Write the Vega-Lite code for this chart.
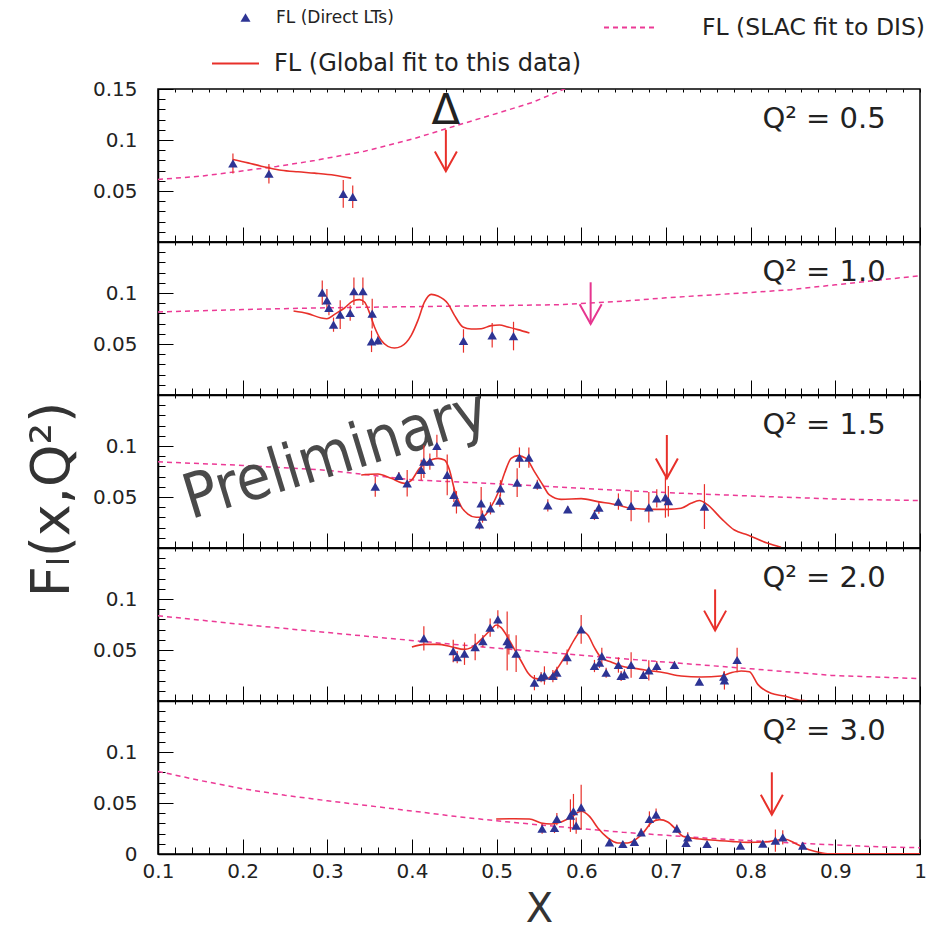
{
"$schema": "https://vega.github.io/schema/vega-lite/v6.json",
"padding": {"left": 24, "top": 0, "right": 0, "bottom": 0},
"spacing": 0,
"bounds": "flush",
"config": {
 "view": {"stroke": "#000", "strokeWidth": 1.5},
 "axis": {"domainColor": "#000", "domainWidth": 1.5, "tickColor": "#000", "tickWidth": 1, "labelFont": "DejaVu Sans", "labelFontSize": 20, "labelColor": "#222", "grid": false, "labelFlush": false, "labelOverlap": false, "titleFont": "DejaVu Sans", "titleFontWeight": "normal", "titleColor": "#333"},
 "legend": {"labelFont": "DejaVu Sans", "labelColor": "#222", "padding": 0, "labelLimit": 500}
},
"resolve": {"scale": {"shape": "independent", "stroke": "independent", "strokeDash": "independent"}, "legend": {"shape": "independent", "stroke": "independent", "strokeDash": "independent"}},
"datasets": {
 "pts": [
  {"p":1,"x":0.1885,"y":0.077,"e":0.0098},{"p":1,"x":0.231,"y":0.0669,"e":0.0095},{"p":1,"x":0.3188,"y":0.0472,"e":0.0135},{"p":1,"x":0.330,"y":0.0443,"e":0.011},
  {"p":2,"x":0.294,"y":0.1004,"e":0.0118},{"p":2,"x":0.2995,"y":0.0928,"e":0.011},{"p":2,"x":0.3019,"y":0.0853,"e":0.007},{"p":2,"x":0.3073,"y":0.069,"e":0.007},{"p":2,"x":0.3152,"y":0.0788,"e":0.014},{"p":2,"x":0.327,"y":0.0804,"e":0.0075},{"p":2,"x":0.3314,"y":0.1017,"e":0.0135},{"p":2,"x":0.342,"y":0.1017,"e":0.0135},{"p":2,"x":0.353,"y":0.0798,"e":0.0145},{"p":2,"x":0.3522,"y":0.0526,"e":0.0105},{"p":2,"x":0.3597,"y":0.0536,"e":0.004},{"p":2,"x":0.4608,"y":0.053,"e":0.0115},{"p":2,"x":0.4947,"y":0.0585,"e":0.012},{"p":2,"x":0.5199,"y":0.0578,"e":0.014},
  {"p":3,"x":0.3566,"y":0.0602,"e":0.01},{"p":3,"x":0.3845,"y":0.0706,"e":0.004},{"p":3,"x":0.3943,"y":0.0634,"e":0.013},{"p":3,"x":0.4109,"y":0.0765,"e":0.01},{"p":3,"x":0.414,"y":0.0847,"e":0.016},{"p":3,"x":0.4211,"y":0.0847,"e":0.008},{"p":3,"x":0.4294,"y":0.1,"e":0.011},{"p":3,"x":0.4416,"y":0.0716,"e":0.02},{"p":3,"x":0.4495,"y":0.052,"e":0.007},{"p":3,"x":0.4525,"y":0.0448,"e":0.011},{"p":3,"x":0.4797,"y":0.0232,"e":0.005},{"p":3,"x":0.4817,"y":0.0438,"e":0.016},{"p":3,"x":0.4833,"y":0.0308,"e":0.006},{"p":3,"x":0.4927,"y":0.0389,"e":0.006},{"p":3,"x":0.5038,"y":0.0465,"e":0.006},{"p":3,"x":0.5045,"y":0.0585,"e":0.008},{"p":3,"x":0.5242,"y":0.0641,"e":0.014},{"p":3,"x":0.5269,"y":0.0886,"e":0.01},{"p":3,"x":0.538,"y":0.0886,"e":0.01},{"p":3,"x":0.548,"y":0.062,"e":0.005},{"p":3,"x":0.5604,"y":0.0417,"e":0.006},{"p":3,"x":0.584,"y":0.0379,"e":0.003},{"p":3,"x":0.6155,"y":0.0324,"e":0.005},{"p":3,"x":0.6207,"y":0.0396,"e":0.006},{"p":3,"x":0.6438,"y":0.0455,"e":0.008},{"p":3,"x":0.6588,"y":0.0412,"e":0.015},{"p":3,"x":0.6797,"y":0.0399,"e":0.015},{"p":3,"x":0.6891,"y":0.0487,"e":0.009},{"p":3,"x":0.6993,"y":0.0497,"e":0.02},{"p":3,"x":0.7028,"y":0.0459,"e":0.015},{"p":3,"x":0.7454,"y":0.0406,"e":0.022},
  {"p":4,"x":0.414,"y":0.0614,"e":0.012},{"p":4,"x":0.4487,"y":0.049,"e":0.011},{"p":4,"x":0.4534,"y":0.0431,"e":0.006},{"p":4,"x":0.462,"y":0.0464,"e":0.011},{"p":4,"x":0.4746,"y":0.0529,"e":0.013},{"p":4,"x":0.4837,"y":0.0588,"e":0.006},{"p":4,"x":0.4923,"y":0.0719,"e":0.009},{"p":4,"x":0.5014,"y":0.08,"e":0.009},{"p":4,"x":0.5124,"y":0.0588,"e":0.029},{"p":4,"x":0.5144,"y":0.0555,"e":0.01},{"p":4,"x":0.523,"y":0.0464,"e":0.018},{"p":4,"x":0.5446,"y":0.018,"e":0.0075},{"p":4,"x":0.5525,"y":0.0235,"e":0.005},{"p":4,"x":0.5564,"y":0.025,"e":0.009},{"p":4,"x":0.5664,"y":0.0245,"e":0.006},{"p":4,"x":0.5711,"y":0.0277,"e":0.006},{"p":4,"x":0.5832,"y":0.0431,"e":0.0075},{"p":4,"x":0.5998,"y":0.0702,"e":0.014},{"p":4,"x":0.6155,"y":0.0343,"e":0.006},{"p":4,"x":0.6214,"y":0.0375,"e":0.005},{"p":4,"x":0.6242,"y":0.0441,"e":0.008},{"p":4,"x":0.6293,"y":0.0277,"e":0.005},{"p":4,"x":0.6438,"y":0.0353,"e":0.0075},{"p":4,"x":0.647,"y":0.0245,"e":0.005},{"p":4,"x":0.6509,"y":0.0261,"e":0.005},{"p":4,"x":0.6588,"y":0.0353,"e":0.0125},{"p":4,"x":0.6733,"y":0.0255,"e":0.004},{"p":4,"x":0.6797,"y":0.03,"e":0.01},{"p":4,"x":0.6891,"y":0.0343,"e":0.005},{"p":4,"x":0.71,"y":0.0353,"e":0.004},{"p":4,"x":0.7394,"y":0.0189,"e":0.003},{"p":4,"x":0.7683,"y":0.0238,"e":0.005},{"p":4,"x":0.769,"y":0.0202,"e":0.009},{"p":4,"x":0.784,"y":0.0402,"e":0.012},
  {"p":5,"x":0.5537,"y":0.0249,"e":0.005},{"p":5,"x":0.5683,"y":0.0255,"e":0.005},{"p":5,"x":0.5711,"y":0.0343,"e":0.006},{"p":5,"x":0.5871,"y":0.0376,"e":0.016},{"p":5,"x":0.5907,"y":0.0419,"e":0.017},{"p":5,"x":0.5939,"y":0.0278,"e":0.008},{"p":5,"x":0.5998,"y":0.0458,"e":0.022},{"p":5,"x":0.6332,"y":0.0115,"e":0.003},{"p":5,"x":0.649,"y":0.0098,"e":0.003},{"p":5,"x":0.6627,"y":0.0118,"e":0.003},{"p":5,"x":0.6706,"y":0.0213,"e":0.004},{"p":5,"x":0.6804,"y":0.0343,"e":0.0075},{"p":5,"x":0.6883,"y":0.0386,"e":0.006},{"p":5,"x":0.7128,"y":0.0249,"e":0.004},{"p":5,"x":0.7257,"y":0.0164,"e":0.005},{"p":5,"x":0.7237,"y":0.0108,"e":0.004},{"p":5,"x":0.7485,"y":0.0098,"e":0.003},{"p":5,"x":0.7879,"y":0.0082,"e":0.003},{"p":5,"x":0.8143,"y":0.0101,"e":0.003},{"p":5,"x":0.8292,"y":0.0131,"e":0.011},{"p":5,"x":0.8379,"y":0.0164,"e":0.007},{"p":5,"x":0.8615,"y":0.0082,"e":0.003}
 ],
 "fit": [
  {"p":1,"x":0.1885,"y":0.0809},{"p":1,"x":0.2063,"y":0.0776},{"p":1,"x":0.222,"y":0.0743},{"p":1,"x":0.231,"y":0.0727},{"p":1,"x":0.2456,"y":0.0704},{"p":1,"x":0.2653,"y":0.0688},{"p":1,"x":0.2849,"y":0.0675},{"p":1,"x":0.3085,"y":0.0655},{"p":1,"x":0.3282,"y":0.0626},
  {"p":2,"x":0.2601,"y":0.0824},{"p":2,"x":0.2771,"y":0.0798},{"p":2,"x":0.2928,"y":0.0755},{"p":2,"x":0.2995,"y":0.0748},{"p":2,"x":0.3085,"y":0.0791},{"p":2,"x":0.3203,"y":0.0853},{"p":2,"x":0.3302,"y":0.0922},{"p":2,"x":0.338,"y":0.0935},{"p":2,"x":0.3439,"y":0.0912},{"p":2,"x":0.3487,"y":0.083},{"p":2,"x":0.3557,"y":0.0667},{"p":2,"x":0.3636,"y":0.0536},{"p":2,"x":0.3715,"y":0.0477},{"p":2,"x":0.3793,"y":0.0461},{"p":2,"x":0.3872,"y":0.0477},{"p":2,"x":0.3991,"y":0.0585},{"p":2,"x":0.407,"y":0.0732},{"p":2,"x":0.4148,"y":0.0912},{"p":2,"x":0.4227,"y":0.0987},{"p":2,"x":0.4306,"y":0.0971},{"p":2,"x":0.4424,"y":0.0896},{"p":2,"x":0.4502,"y":0.0781},{"p":2,"x":0.4601,"y":0.0667},{"p":2,"x":0.4699,"y":0.0647},{"p":2,"x":0.4817,"y":0.065},{"p":2,"x":0.4935,"y":0.068},{"p":2,"x":0.5033,"y":0.0686},{"p":2,"x":0.5132,"y":0.0667},{"p":2,"x":0.525,"y":0.0641},{"p":2,"x":0.5387,"y":0.0608},
  {"p":3,"x":0.34,"y":0.0716},{"p":3,"x":0.3597,"y":0.0725},{"p":3,"x":0.3754,"y":0.0683},{"p":3,"x":0.3912,"y":0.0634},{"p":3,"x":0.399,"y":0.0661},{"p":3,"x":0.4089,"y":0.0781},{"p":3,"x":0.4188,"y":0.0847},{"p":3,"x":0.4247,"y":0.087},{"p":3,"x":0.4306,"y":0.0879},{"p":3,"x":0.4384,"y":0.0863},{"p":3,"x":0.4443,"y":0.0765},{"p":3,"x":0.4502,"y":0.0569},{"p":3,"x":0.4581,"y":0.0406},{"p":3,"x":0.466,"y":0.0333},{"p":3,"x":0.4758,"y":0.0301},{"p":3,"x":0.4837,"y":0.0307},{"p":3,"x":0.4935,"y":0.0406},{"p":3,"x":0.5014,"y":0.0536},{"p":3,"x":0.5092,"y":0.0732},{"p":3,"x":0.5171,"y":0.0879},{"p":3,"x":0.525,"y":0.0906},{"p":3,"x":0.5348,"y":0.0879},{"p":3,"x":0.5446,"y":0.0749},{"p":3,"x":0.5545,"y":0.0618},{"p":3,"x":0.5623,"y":0.052},{"p":3,"x":0.5762,"y":0.0477},{"p":3,"x":0.5998,"y":0.0484},{"p":3,"x":0.6195,"y":0.0455},{"p":3,"x":0.6431,"y":0.0422},{"p":3,"x":0.6588,"y":0.0389},{"p":3,"x":0.6824,"y":0.0379},{"p":3,"x":0.7021,"y":0.0379},{"p":3,"x":0.7178,"y":0.0389},{"p":3,"x":0.7296,"y":0.0438},{"p":3,"x":0.7394,"y":0.0465},{"p":3,"x":0.7494,"y":0.0422},{"p":3,"x":0.7651,"y":0.0291},{"p":3,"x":0.7808,"y":0.0176},{"p":3,"x":0.7966,"y":0.0127},{"p":3,"x":0.8202,"y":0.0046},{"p":3,"x":0.8359,"y":0.0007},
  {"p":4,"x":0.3999,"y":0.0529},{"p":4,"x":0.4148,"y":0.0555},{"p":4,"x":0.4306,"y":0.0555},{"p":4,"x":0.4463,"y":0.0532},{"p":4,"x":0.462,"y":0.0506},{"p":4,"x":0.47,"y":0.0523},{"p":4,"x":0.4778,"y":0.0572},{"p":4,"x":0.4856,"y":0.0637},{"p":4,"x":0.4935,"y":0.0702},{"p":4,"x":0.4994,"y":0.0745},{"p":4,"x":0.5053,"y":0.0719},{"p":4,"x":0.5132,"y":0.0621},{"p":4,"x":0.521,"y":0.0506},{"p":4,"x":0.5289,"y":0.0392},{"p":4,"x":0.5368,"y":0.0277},{"p":4,"x":0.5446,"y":0.0222},{"p":4,"x":0.5564,"y":0.0212},{"p":4,"x":0.5643,"y":0.0245},{"p":4,"x":0.5723,"y":0.0327},{"p":4,"x":0.5821,"y":0.0457},{"p":4,"x":0.5919,"y":0.0604},{"p":4,"x":0.5998,"y":0.0686},{"p":4,"x":0.6077,"y":0.0647},{"p":4,"x":0.6155,"y":0.0523},{"p":4,"x":0.6234,"y":0.0425},{"p":4,"x":0.6352,"y":0.0382},{"p":4,"x":0.647,"y":0.0343},{"p":4,"x":0.6627,"y":0.032},{"p":4,"x":0.6785,"y":0.03},{"p":4,"x":0.6981,"y":0.0277},{"p":4,"x":0.7178,"y":0.0245},{"p":4,"x":0.7414,"y":0.0235},{"p":4,"x":0.7651,"y":0.0245},{"p":4,"x":0.7769,"y":0.0277},{"p":4,"x":0.7887,"y":0.0294},{"p":4,"x":0.7985,"y":0.0287},{"p":4,"x":0.8084,"y":0.0163},{"p":4,"x":0.8241,"y":0.0075},{"p":4,"x":0.8398,"y":0.0049},{"p":4,"x":0.8595,"y":0.0006},{"p":4,"x":0.867,"y":0},
  {"p":5,"x":0.4994,"y":0.0343},{"p":5,"x":0.521,"y":0.0346},{"p":5,"x":0.5387,"y":0.0343},{"p":5,"x":0.5525,"y":0.0304},{"p":5,"x":0.5643,"y":0.0294},{"p":5,"x":0.5762,"y":0.0314},{"p":5,"x":0.5879,"y":0.036},{"p":5,"x":0.5998,"y":0.0419},{"p":5,"x":0.6096,"y":0.0369},{"p":5,"x":0.6195,"y":0.0255},{"p":5,"x":0.6313,"y":0.0157},{"p":5,"x":0.6431,"y":0.0108},{"p":5,"x":0.6549,"y":0.0108},{"p":5,"x":0.6667,"y":0.0157},{"p":5,"x":0.6745,"y":0.0222},{"p":5,"x":0.6824,"y":0.0304},{"p":5,"x":0.6923,"y":0.0337},{"p":5,"x":0.7021,"y":0.0314},{"p":5,"x":0.712,"y":0.0239},{"p":5,"x":0.7198,"y":0.0173},{"p":5,"x":0.7296,"y":0.0157},{"p":5,"x":0.7493,"y":0.014},{"p":5,"x":0.7769,"y":0.0124},{"p":5,"x":0.7966,"y":0.0114},{"p":5,"x":0.8162,"y":0.0118},{"p":5,"x":0.8281,"y":0.0131},{"p":5,"x":0.8399,"y":0.0147},{"p":5,"x":0.8517,"y":0.0108},{"p":5,"x":0.8635,"y":0.0059},{"p":5,"x":0.8753,"y":0.0026},{"p":5,"x":0.891,"y":0.0003},{"p":5,"x":0.954,"y":0.0003},{"p":5,"x":1.0,"y":0.0003}
 ],
 "slac": [
  {"p":1,"x":0.1,"y":0.0613},{"p":1,"x":0.15,"y":0.0645},{"p":1,"x":0.1885,"y":0.0685},{"p":1,"x":0.24,"y":0.074},{"p":1,"x":0.285,"y":0.0799},{"p":1,"x":0.344,"y":0.089},{"p":1,"x":0.403,"y":0.1015},{"p":1,"x":0.45,"y":0.1135},{"p":1,"x":0.5,"y":0.126},{"p":1,"x":0.541,"y":0.1365},{"p":1,"x":0.58,"y":0.15},{"p":1,"x":0.62,"y":0.165},
  {"p":2,"x":0.1,"y":0.0814},{"p":2,"x":0.2,"y":0.0838},{"p":2,"x":0.285,"y":0.0853},{"p":2,"x":0.4,"y":0.0866},{"p":2,"x":0.5,"y":0.0876},{"p":2,"x":0.576,"y":0.0886},{"p":2,"x":0.65,"y":0.092},{"p":2,"x":0.7,"y":0.0953},{"p":2,"x":0.8,"y":0.1005},{"p":2,"x":0.8477,"y":0.1033},{"p":2,"x":0.9,"y":0.108},{"p":2,"x":1.0,"y":0.117},
  {"p":3,"x":0.1,"y":0.0845},{"p":3,"x":0.2,"y":0.081},{"p":3,"x":0.3,"y":0.0762},{"p":3,"x":0.4,"y":0.0668},{"p":3,"x":0.5,"y":0.063},{"p":3,"x":0.6,"y":0.0585},{"p":3,"x":0.7,"y":0.0543},{"p":3,"x":0.8,"y":0.051},{"p":3,"x":0.9,"y":0.048},{"p":3,"x":1.0,"y":0.0465},
  {"p":4,"x":0.1,"y":0.0836},{"p":4,"x":0.2,"y":0.075},{"p":4,"x":0.3,"y":0.0672},{"p":4,"x":0.3636,"y":0.0621},{"p":4,"x":0.45,"y":0.0555},{"p":4,"x":0.5,"y":0.0518},{"p":4,"x":0.6,"y":0.0448},{"p":4,"x":0.7,"y":0.0381},{"p":4,"x":0.8,"y":0.0316},{"p":4,"x":0.895,"y":0.0251},{"p":4,"x":1.0,"y":0.0219},
  {"p":5,"x":0.1,"y":0.081},{"p":5,"x":0.15,"y":0.072},{"p":5,"x":0.2,"y":0.064},{"p":5,"x":0.25,"y":0.0575},{"p":5,"x":0.3,"y":0.0522},{"p":5,"x":0.364,"y":0.0458},{"p":5,"x":0.45,"y":0.037},{"p":5,"x":0.5,"y":0.0325},{"p":5,"x":0.568,"y":0.0272},{"p":5,"x":0.65,"y":0.0212},{"p":5,"x":0.757,"y":0.0151},{"p":5,"x":0.85,"y":0.0108},{"p":5,"x":0.954,"y":0.0069},{"p":5,"x":1.0,"y":0.0062}
 ],
 "arrows": [
  {"p":1,"x":0.44,"top":0.110,"tip":0.0694},{"p":2,"x":0.611,"top":0.1105,"tip":0.0696},{"p":3,"x":0.701,"top":0.1108,"tip":0.0683},{"p":4,"x":0.758,"top":0.1094,"tip":0.0692},{"p":5,"x":0.825,"top":0.0801,"tip":0.0386}
 ],
 "labels": [
  {"p":1,"x":0.8867,"y":0.112,"t":"Q² = 0.5"},{"p":2,"x":0.8867,"y":0.112,"t":"Q² = 1.0"},{"p":3,"x":0.8867,"y":0.112,"t":"Q² = 1.5"},{"p":4,"x":0.8867,"y":0.112,"t":"Q² = 2.0"},{"p":5,"x":0.8867,"y":0.112,"t":"Q² = 3.0"}
 ],
 "notes": [
  {"p":1,"x":0.44,"y":0.1152,"t":"Δ"},{"p":3,"x":0.31,"y":0.091,"t":"Preliminary"}
 ]
},
"vconcat": [
 {
  "width": 762, "height": 153,
  "resolve": {"axis": {"x": "independent", "y": "independent"}},
  "layer": [
   {"data": {"name": "slac"}, "transform": [{"filter": "datum.p == 1"}],
    "mark": {"type": "line", "color": "#ec3a96", "strokeDash": [5, 4], "strokeWidth": 1.5, "clip": true},
    "encoding": {
     "x": {"field": "x", "type": "quantitative", "scale": {"domain": [0.1, 1], "nice": false, "zero": false},
      "axis": {"orient": "bottom", "title": null, "labels": false, "values": [0.1,0.12,0.14,0.16,0.18,0.2,0.22,0.24,0.26,0.28,0.3,0.32,0.34,0.36,0.38,0.4,0.42,0.44,0.46,0.48,0.5,0.52,0.54,0.56,0.58,0.6,0.62,0.64,0.66,0.68,0.7,0.72,0.74,0.76,0.78,0.8,0.82,0.84,0.86,0.88,0.9,0.92,0.94,0.96,0.98,1], "tickSize": {"condition": {"test": "abs(datum.value*10-round(datum.value*10))<0.001", "value": -15}, "value": -7}}},
     "y": {"field": "y", "type": "quantitative", "scale": {"domain": [0, 0.15], "nice": false, "zero": false},
      "axis": {"orient": "left", "title": null, "values": [0,0.01,0.02,0.03,0.04,0.05,0.06,0.07,0.08,0.09,0.1,0.11,0.12,0.13,0.14,0.15], "tickSize": {"condition": {"test": "abs(datum.value*20-round(datum.value*20))<0.001", "value": -15}, "value": -7}, "labelPadding": 36, "labelExpr": "datum.value > 0.001 && abs(datum.value*20-round(datum.value*20))<0.001 ? format(datum.value, '.2~f') : ''"}},
     "strokeDash": {"datum": "FL (SLAC fit to DIS)", "scale": {"range": [[5, 4]]}, "legend": {"orient": "none", "legendX": 445, "legendY": -88, "title": null, "labelFontSize": 23.5, "labelOffset": 46, "symbolType": "stroke", "symbolSize": 2601, "symbolStrokeColor": "#ec3a96", "symbolStrokeWidth": 2}}}},
   {"data": {"name": "fit"}, "transform": [{"filter": "datum.p == 1"}],
    "mark": {"type": "line", "strokeWidth": 1.6, "interpolate": "monotone", "clip": true},
    "encoding": {
     "x": {"field": "x", "type": "quantitative", "axis": {"orient": "top", "title": null, "labels": false, "domain": false, "values": [0.1,0.12,0.14,0.16,0.18,0.2,0.22,0.24,0.26,0.28,0.3,0.32,0.34,0.36,0.38,0.4,0.42,0.44,0.46,0.48,0.5,0.52,0.54,0.56,0.58,0.6,0.62,0.64,0.66,0.68,0.7,0.72,0.74,0.76,0.78,0.8,0.82,0.84,0.86,0.88,0.9,0.92,0.94,0.96,0.98,1], "tickSize": -3}},
     "y": {"field": "y", "type": "quantitative", "axis": null},
     "stroke": {"datum": "FL (Global fit to this data)", "scale": {"range": ["#e8302a"]}, "legend": {"orient": "none", "legendX": 53, "legendY": -50, "title": null, "labelFontSize": 24, "labelOffset": 14, "symbolType": "stroke", "symbolSize": 2209, "symbolStrokeWidth": 2}}}},
   {"data": {"name": "pts"}, "transform": [{"filter": "datum.p == 1"}],
    "mark": {"type": "errorbar", "color": "#e8302a", "thickness": 1.2},
    "encoding": {"x": {"field": "x", "type": "quantitative", "axis": null}, "y": {"field": "y", "type": "quantitative", "axis": null}, "yError": {"field": "e"}}},
   {"data": {"name": "pts"}, "transform": [{"filter": "datum.p == 1"}],
    "mark": {"type": "point", "filled": true, "size": 90, "color": "#2d3494", "opacity": 1},
    "encoding": {"x": {"field": "x", "type": "quantitative", "axis": null}, "y": {"field": "y", "type": "quantitative", "axis": null},
     "shape": {"datum": "FL (Direct LTs)", "scale": {"range": ["triangle-up"]}, "legend": {"orient": "none", "legendX": 79, "legendY": -80, "title": null, "labelFontSize": 17, "labelOffset": 22, "symbolSize": 100, "symbolFillColor": "#2d3494", "symbolStrokeWidth": 0}}}},
   {"data": {"name": "arrows"}, "transform": [{"filter": "datum.p == 1"}],
    "mark": {"type": "rule", "color": "#e8302a", "strokeWidth": 2},
    "encoding": {"x": {"field": "x", "type": "quantitative", "axis": null}, "y": {"field": "top", "type": "quantitative", "axis": null}, "y2": {"field": "tip"}}},
   {"data": {"name": "arrows"}, "transform": [{"filter": "datum.p == 1"}],
    "mark": {"type": "point", "shape": "M-1,-1.8L0,0L1,-1.8", "filled": false, "size": 484, "color": "#e8302a", "strokeWidth": 2, "opacity": 1},
    "encoding": {"x": {"field": "x", "type": "quantitative", "axis": null}, "y": {"field": "tip", "type": "quantitative", "axis": null}}},
   {"data": {"name": "labels"}, "transform": [{"filter": "datum.p == 1"}],
    "mark": {"type": "text", "font": "DejaVu Sans", "fontSize": 29, "align": "center", "baseline": "alphabetic", "color": "#222"},
    "encoding": {"x": {"field": "x", "type": "quantitative", "axis": null}, "y": {"field": "y", "type": "quantitative", "axis": null}, "text": {"field": "t"}}},
   {"data": {"name": "notes"}, "transform": [{"filter": "datum.p == 1"}],
    "mark": {"type": "text", "font": "DejaVu Sans", "fontSize": 42, "align": "center", "baseline": "alphabetic", "color": "#222"},
    "encoding": {"x": {"field": "x", "type": "quantitative", "axis": null}, "y": {"field": "y", "type": "quantitative", "axis": null}, "text": {"field": "t"}}}
  ]
 },
 {
  "width": 762, "height": 153,
  "resolve": {"axis": {"x": "independent", "y": "independent"}},
  "layer": [
   {"data": {"name": "slac"}, "transform": [{"filter": "datum.p == 2"}],
    "mark": {"type": "line", "color": "#ec3a96", "strokeDash": [5, 4], "strokeWidth": 1.5, "clip": true},
    "encoding": {
     "x": {"field": "x", "type": "quantitative", "scale": {"domain": [0.1, 1], "nice": false, "zero": false},
      "axis": {"orient": "bottom", "title": null, "labels": false, "values": [0.1,0.12,0.14,0.16,0.18,0.2,0.22,0.24,0.26,0.28,0.3,0.32,0.34,0.36,0.38,0.4,0.42,0.44,0.46,0.48,0.5,0.52,0.54,0.56,0.58,0.6,0.62,0.64,0.66,0.68,0.7,0.72,0.74,0.76,0.78,0.8,0.82,0.84,0.86,0.88,0.9,0.92,0.94,0.96,0.98,1], "tickSize": {"condition": {"test": "abs(datum.value*10-round(datum.value*10))<0.001", "value": -15}, "value": -7}}},
     "y": {"field": "y", "type": "quantitative", "scale": {"domain": [0, 0.15], "nice": false, "zero": false},
      "axis": {"orient": "left", "title": null, "values": [0,0.01,0.02,0.03,0.04,0.05,0.06,0.07,0.08,0.09,0.1,0.11,0.12,0.13,0.14,0.15], "tickSize": {"condition": {"test": "abs(datum.value*20-round(datum.value*20))<0.001", "value": -15}, "value": -7}, "labelPadding": 36, "labelExpr": "datum.value > 0.001 && datum.value < 0.14 && abs(datum.value*20-round(datum.value*20))<0.001 ? format(datum.value, '.2~f') : ''"}}}},
   {"data": {"name": "fit"}, "transform": [{"filter": "datum.p == 2"}],
    "mark": {"type": "line", "color": "#e8302a", "strokeWidth": 1.6, "interpolate": "monotone", "clip": true},
    "encoding": {
     "x": {"field": "x", "type": "quantitative", "axis": {"orient": "top", "title": null, "labels": false, "domain": false, "values": [0.1,0.12,0.14,0.16,0.18,0.2,0.22,0.24,0.26,0.28,0.3,0.32,0.34,0.36,0.38,0.4,0.42,0.44,0.46,0.48,0.5,0.52,0.54,0.56,0.58,0.6,0.62,0.64,0.66,0.68,0.7,0.72,0.74,0.76,0.78,0.8,0.82,0.84,0.86,0.88,0.9,0.92,0.94,0.96,0.98,1], "tickSize": -3}},
     "y": {"field": "y", "type": "quantitative", "axis": null}}},
   {"data": {"name": "pts"}, "transform": [{"filter": "datum.p == 2"}],
    "mark": {"type": "errorbar", "color": "#e8302a", "thickness": 1.2},
    "encoding": {"x": {"field": "x", "type": "quantitative", "axis": null}, "y": {"field": "y", "type": "quantitative", "axis": null}, "yError": {"field": "e"}}},
   {"data": {"name": "pts"}, "transform": [{"filter": "datum.p == 2"}],
    "mark": {"type": "point", "shape": "triangle-up", "filled": true, "size": 90, "color": "#2d3494", "opacity": 1},
    "encoding": {"x": {"field": "x", "type": "quantitative", "axis": null}, "y": {"field": "y", "type": "quantitative", "axis": null}}},
   {"data": {"name": "arrows"}, "transform": [{"filter": "datum.p == 2"}],
    "mark": {"type": "rule", "color": "#e6358f", "strokeWidth": 2},
    "encoding": {"x": {"field": "x", "type": "quantitative", "axis": null}, "y": {"field": "top", "type": "quantitative", "axis": null}, "y2": {"field": "tip"}}},
   {"data": {"name": "arrows"}, "transform": [{"filter": "datum.p == 2"}],
    "mark": {"type": "point", "shape": "M-1,-1.8L0,0L1,-1.8", "filled": false, "size": 484, "color": "#e6358f", "strokeWidth": 2, "opacity": 1},
    "encoding": {"x": {"field": "x", "type": "quantitative", "axis": null}, "y": {"field": "tip", "type": "quantitative", "axis": null}}},
   {"data": {"name": "labels"}, "transform": [{"filter": "datum.p == 2"}],
    "mark": {"type": "text", "font": "DejaVu Sans", "fontSize": 29, "align": "center", "baseline": "alphabetic", "color": "#222"},
    "encoding": {"x": {"field": "x", "type": "quantitative", "axis": null}, "y": {"field": "y", "type": "quantitative", "axis": null}, "text": {"field": "t"}}}
  ]
 },
 {
  "width": 762, "height": 153,
  "resolve": {"axis": {"x": "independent", "y": "independent"}},
  "layer": [
   {"data": {"name": "slac"}, "transform": [{"filter": "datum.p == 3"}],
    "mark": {"type": "line", "color": "#ec3a96", "strokeDash": [5, 4], "strokeWidth": 1.5, "clip": true},
    "encoding": {
     "x": {"field": "x", "type": "quantitative", "scale": {"domain": [0.1, 1], "nice": false, "zero": false},
      "axis": {"orient": "bottom", "title": null, "labels": false, "values": [0.1,0.12,0.14,0.16,0.18,0.2,0.22,0.24,0.26,0.28,0.3,0.32,0.34,0.36,0.38,0.4,0.42,0.44,0.46,0.48,0.5,0.52,0.54,0.56,0.58,0.6,0.62,0.64,0.66,0.68,0.7,0.72,0.74,0.76,0.78,0.8,0.82,0.84,0.86,0.88,0.9,0.92,0.94,0.96,0.98,1], "tickSize": {"condition": {"test": "abs(datum.value*10-round(datum.value*10))<0.001", "value": -15}, "value": -7}}},
     "y": {"field": "y", "type": "quantitative", "scale": {"domain": [0, 0.15], "nice": false, "zero": false},
      "axis": {"orient": "left", "title": "Fₗ(x,Q²)", "titleFontSize": 54, "titleAngle": 270, "titleX": -106, "titleY": 104, "titleAlign": "center", "titleBaseline": "middle", "values": [0,0.01,0.02,0.03,0.04,0.05,0.06,0.07,0.08,0.09,0.1,0.11,0.12,0.13,0.14,0.15], "tickSize": {"condition": {"test": "abs(datum.value*20-round(datum.value*20))<0.001", "value": -15}, "value": -7}, "labelPadding": 36, "labelExpr": "datum.value > 0.001 && datum.value < 0.14 && abs(datum.value*20-round(datum.value*20))<0.001 ? format(datum.value, '.2~f') : ''"}}}},
   {"data": {"name": "notes"}, "transform": [{"filter": "datum.p == 3"}],
    "mark": {"type": "text", "font": "Liberation Sans Narrow, DejaVu Sans Condensed, Liberation Sans", "fontSize": 62, "angle": 343, "align": "center", "baseline": "middle", "color": "#4a4a4a"},
    "encoding": {"x": {"field": "x", "type": "quantitative", "axis": null}, "y": {"field": "y", "type": "quantitative", "axis": null}, "text": {"field": "t"}}},
   {"data": {"name": "fit"}, "transform": [{"filter": "datum.p == 3"}],
    "mark": {"type": "line", "color": "#e8302a", "strokeWidth": 1.6, "interpolate": "monotone", "clip": true},
    "encoding": {
     "x": {"field": "x", "type": "quantitative", "axis": {"orient": "top", "title": null, "labels": false, "domain": false, "values": [0.1,0.12,0.14,0.16,0.18,0.2,0.22,0.24,0.26,0.28,0.3,0.32,0.34,0.36,0.38,0.4,0.42,0.44,0.46,0.48,0.5,0.52,0.54,0.56,0.58,0.6,0.62,0.64,0.66,0.68,0.7,0.72,0.74,0.76,0.78,0.8,0.82,0.84,0.86,0.88,0.9,0.92,0.94,0.96,0.98,1], "tickSize": -3}},
     "y": {"field": "y", "type": "quantitative", "axis": null}}},
   {"data": {"name": "pts"}, "transform": [{"filter": "datum.p == 3"}],
    "mark": {"type": "errorbar", "color": "#e8302a", "thickness": 1.2},
    "encoding": {"x": {"field": "x", "type": "quantitative", "axis": null}, "y": {"field": "y", "type": "quantitative", "axis": null}, "yError": {"field": "e"}}},
   {"data": {"name": "pts"}, "transform": [{"filter": "datum.p == 3"}],
    "mark": {"type": "point", "shape": "triangle-up", "filled": true, "size": 90, "color": "#2d3494", "opacity": 1},
    "encoding": {"x": {"field": "x", "type": "quantitative", "axis": null}, "y": {"field": "y", "type": "quantitative", "axis": null}}},
   {"data": {"name": "arrows"}, "transform": [{"filter": "datum.p == 3"}],
    "mark": {"type": "rule", "color": "#e8302a", "strokeWidth": 2},
    "encoding": {"x": {"field": "x", "type": "quantitative", "axis": null}, "y": {"field": "top", "type": "quantitative", "axis": null}, "y2": {"field": "tip"}}},
   {"data": {"name": "arrows"}, "transform": [{"filter": "datum.p == 3"}],
    "mark": {"type": "point", "shape": "M-1,-1.8L0,0L1,-1.8", "filled": false, "size": 484, "color": "#e8302a", "strokeWidth": 2, "opacity": 1},
    "encoding": {"x": {"field": "x", "type": "quantitative", "axis": null}, "y": {"field": "tip", "type": "quantitative", "axis": null}}},
   {"data": {"name": "labels"}, "transform": [{"filter": "datum.p == 3"}],
    "mark": {"type": "text", "font": "DejaVu Sans", "fontSize": 29, "align": "center", "baseline": "alphabetic", "color": "#222"},
    "encoding": {"x": {"field": "x", "type": "quantitative", "axis": null}, "y": {"field": "y", "type": "quantitative", "axis": null}, "text": {"field": "t"}}}
  ]
 },
 {
  "width": 762, "height": 153,
  "resolve": {"axis": {"x": "independent", "y": "independent"}},
  "layer": [
   {"data": {"name": "slac"}, "transform": [{"filter": "datum.p == 4"}],
    "mark": {"type": "line", "color": "#ec3a96", "strokeDash": [5, 4], "strokeWidth": 1.5, "clip": true},
    "encoding": {
     "x": {"field": "x", "type": "quantitative", "scale": {"domain": [0.1, 1], "nice": false, "zero": false},
      "axis": {"orient": "bottom", "title": null, "labels": false, "values": [0.1,0.12,0.14,0.16,0.18,0.2,0.22,0.24,0.26,0.28,0.3,0.32,0.34,0.36,0.38,0.4,0.42,0.44,0.46,0.48,0.5,0.52,0.54,0.56,0.58,0.6,0.62,0.64,0.66,0.68,0.7,0.72,0.74,0.76,0.78,0.8,0.82,0.84,0.86,0.88,0.9,0.92,0.94,0.96,0.98,1], "tickSize": {"condition": {"test": "abs(datum.value*10-round(datum.value*10))<0.001", "value": -15}, "value": -7}}},
     "y": {"field": "y", "type": "quantitative", "scale": {"domain": [0, 0.15], "nice": false, "zero": false},
      "axis": {"orient": "left", "title": null, "values": [0,0.01,0.02,0.03,0.04,0.05,0.06,0.07,0.08,0.09,0.1,0.11,0.12,0.13,0.14,0.15], "tickSize": {"condition": {"test": "abs(datum.value*20-round(datum.value*20))<0.001", "value": -15}, "value": -7}, "labelPadding": 36, "labelExpr": "datum.value > 0.001 && datum.value < 0.14 && abs(datum.value*20-round(datum.value*20))<0.001 ? format(datum.value, '.2~f') : ''"}}}},
   {"data": {"name": "fit"}, "transform": [{"filter": "datum.p == 4"}],
    "mark": {"type": "line", "color": "#e8302a", "strokeWidth": 1.6, "interpolate": "monotone", "clip": true},
    "encoding": {
     "x": {"field": "x", "type": "quantitative", "axis": {"orient": "top", "title": null, "labels": false, "domain": false, "values": [0.1,0.12,0.14,0.16,0.18,0.2,0.22,0.24,0.26,0.28,0.3,0.32,0.34,0.36,0.38,0.4,0.42,0.44,0.46,0.48,0.5,0.52,0.54,0.56,0.58,0.6,0.62,0.64,0.66,0.68,0.7,0.72,0.74,0.76,0.78,0.8,0.82,0.84,0.86,0.88,0.9,0.92,0.94,0.96,0.98,1], "tickSize": -3}},
     "y": {"field": "y", "type": "quantitative", "axis": null}}},
   {"data": {"name": "pts"}, "transform": [{"filter": "datum.p == 4"}],
    "mark": {"type": "errorbar", "color": "#e8302a", "thickness": 1.2},
    "encoding": {"x": {"field": "x", "type": "quantitative", "axis": null}, "y": {"field": "y", "type": "quantitative", "axis": null}, "yError": {"field": "e"}}},
   {"data": {"name": "pts"}, "transform": [{"filter": "datum.p == 4"}],
    "mark": {"type": "point", "shape": "triangle-up", "filled": true, "size": 90, "color": "#2d3494", "opacity": 1},
    "encoding": {"x": {"field": "x", "type": "quantitative", "axis": null}, "y": {"field": "y", "type": "quantitative", "axis": null}}},
   {"data": {"name": "arrows"}, "transform": [{"filter": "datum.p == 4"}],
    "mark": {"type": "rule", "color": "#e8302a", "strokeWidth": 2},
    "encoding": {"x": {"field": "x", "type": "quantitative", "axis": null}, "y": {"field": "top", "type": "quantitative", "axis": null}, "y2": {"field": "tip"}}},
   {"data": {"name": "arrows"}, "transform": [{"filter": "datum.p == 4"}],
    "mark": {"type": "point", "shape": "M-1,-1.8L0,0L1,-1.8", "filled": false, "size": 484, "color": "#e8302a", "strokeWidth": 2, "opacity": 1},
    "encoding": {"x": {"field": "x", "type": "quantitative", "axis": null}, "y": {"field": "tip", "type": "quantitative", "axis": null}}},
   {"data": {"name": "labels"}, "transform": [{"filter": "datum.p == 4"}],
    "mark": {"type": "text", "font": "DejaVu Sans", "fontSize": 29, "align": "center", "baseline": "alphabetic", "color": "#222"},
    "encoding": {"x": {"field": "x", "type": "quantitative", "axis": null}, "y": {"field": "y", "type": "quantitative", "axis": null}, "text": {"field": "t"}}}
  ]
 },
 {
  "width": 762, "height": 153,
  "resolve": {"axis": {"x": "independent", "y": "independent"}},
  "layer": [
   {"data": {"name": "slac"}, "transform": [{"filter": "datum.p == 5"}],
    "mark": {"type": "line", "color": "#ec3a96", "strokeDash": [5, 4], "strokeWidth": 1.5, "clip": true},
    "encoding": {
     "x": {"field": "x", "type": "quantitative", "scale": {"domain": [0.1, 1], "nice": false, "zero": false},
      "axis": {"orient": "bottom", "title": "X", "titleFontSize": 40, "titlePadding": 0, "labelPadding": 22, "labelExpr": "abs(datum.value*10-round(datum.value*10))<0.001 ? format(datum.value, '~g') : ''", "values": [0.1,0.12,0.14,0.16,0.18,0.2,0.22,0.24,0.26,0.28,0.3,0.32,0.34,0.36,0.38,0.4,0.42,0.44,0.46,0.48,0.5,0.52,0.54,0.56,0.58,0.6,0.62,0.64,0.66,0.68,0.7,0.72,0.74,0.76,0.78,0.8,0.82,0.84,0.86,0.88,0.9,0.92,0.94,0.96,0.98,1], "tickSize": {"condition": {"test": "abs(datum.value*10-round(datum.value*10))<0.001", "value": -15}, "value": -7}}},
     "y": {"field": "y", "type": "quantitative", "scale": {"domain": [0, 0.15], "nice": false, "zero": false},
      "axis": {"orient": "left", "title": null, "values": [0,0.01,0.02,0.03,0.04,0.05,0.06,0.07,0.08,0.09,0.1,0.11,0.12,0.13,0.14,0.15], "tickSize": {"condition": {"test": "abs(datum.value*20-round(datum.value*20))<0.001", "value": -15}, "value": -7}, "labelPadding": 36, "labelExpr": "datum.value < 0.14 && abs(datum.value*20-round(datum.value*20))<0.001 ? format(datum.value, '.2~f') : ''"}}}},
   {"data": {"name": "fit"}, "transform": [{"filter": "datum.p == 5"}],
    "mark": {"type": "line", "color": "#e8302a", "strokeWidth": 1.6, "interpolate": "monotone", "clip": true},
    "encoding": {
     "x": {"field": "x", "type": "quantitative", "axis": {"orient": "top", "title": null, "labels": false, "domain": false, "values": [0.1,0.12,0.14,0.16,0.18,0.2,0.22,0.24,0.26,0.28,0.3,0.32,0.34,0.36,0.38,0.4,0.42,0.44,0.46,0.48,0.5,0.52,0.54,0.56,0.58,0.6,0.62,0.64,0.66,0.68,0.7,0.72,0.74,0.76,0.78,0.8,0.82,0.84,0.86,0.88,0.9,0.92,0.94,0.96,0.98,1], "tickSize": -3}},
     "y": {"field": "y", "type": "quantitative", "axis": null}}},
   {"data": {"name": "pts"}, "transform": [{"filter": "datum.p == 5"}],
    "mark": {"type": "errorbar", "color": "#e8302a", "thickness": 1.2},
    "encoding": {"x": {"field": "x", "type": "quantitative", "axis": null}, "y": {"field": "y", "type": "quantitative", "axis": null}, "yError": {"field": "e"}}},
   {"data": {"name": "pts"}, "transform": [{"filter": "datum.p == 5"}],
    "mark": {"type": "point", "shape": "triangle-up", "filled": true, "size": 90, "color": "#2d3494", "opacity": 1},
    "encoding": {"x": {"field": "x", "type": "quantitative", "axis": null}, "y": {"field": "y", "type": "quantitative", "axis": null}}},
   {"data": {"name": "arrows"}, "transform": [{"filter": "datum.p == 5"}],
    "mark": {"type": "rule", "color": "#e8302a", "strokeWidth": 2},
    "encoding": {"x": {"field": "x", "type": "quantitative", "axis": null}, "y": {"field": "top", "type": "quantitative", "axis": null}, "y2": {"field": "tip"}}},
   {"data": {"name": "arrows"}, "transform": [{"filter": "datum.p == 5"}],
    "mark": {"type": "point", "shape": "M-1,-1.8L0,0L1,-1.8", "filled": false, "size": 484, "color": "#e8302a", "strokeWidth": 2, "opacity": 1},
    "encoding": {"x": {"field": "x", "type": "quantitative", "axis": null}, "y": {"field": "tip", "type": "quantitative", "axis": null}}},
   {"data": {"name": "labels"}, "transform": [{"filter": "datum.p == 5"}],
    "mark": {"type": "text", "font": "DejaVu Sans", "fontSize": 29, "align": "center", "baseline": "alphabetic", "color": "#222"},
    "encoding": {"x": {"field": "x", "type": "quantitative", "axis": null}, "y": {"field": "y", "type": "quantitative", "axis": null}, "text": {"field": "t"}}}
  ]
 }
]
}
